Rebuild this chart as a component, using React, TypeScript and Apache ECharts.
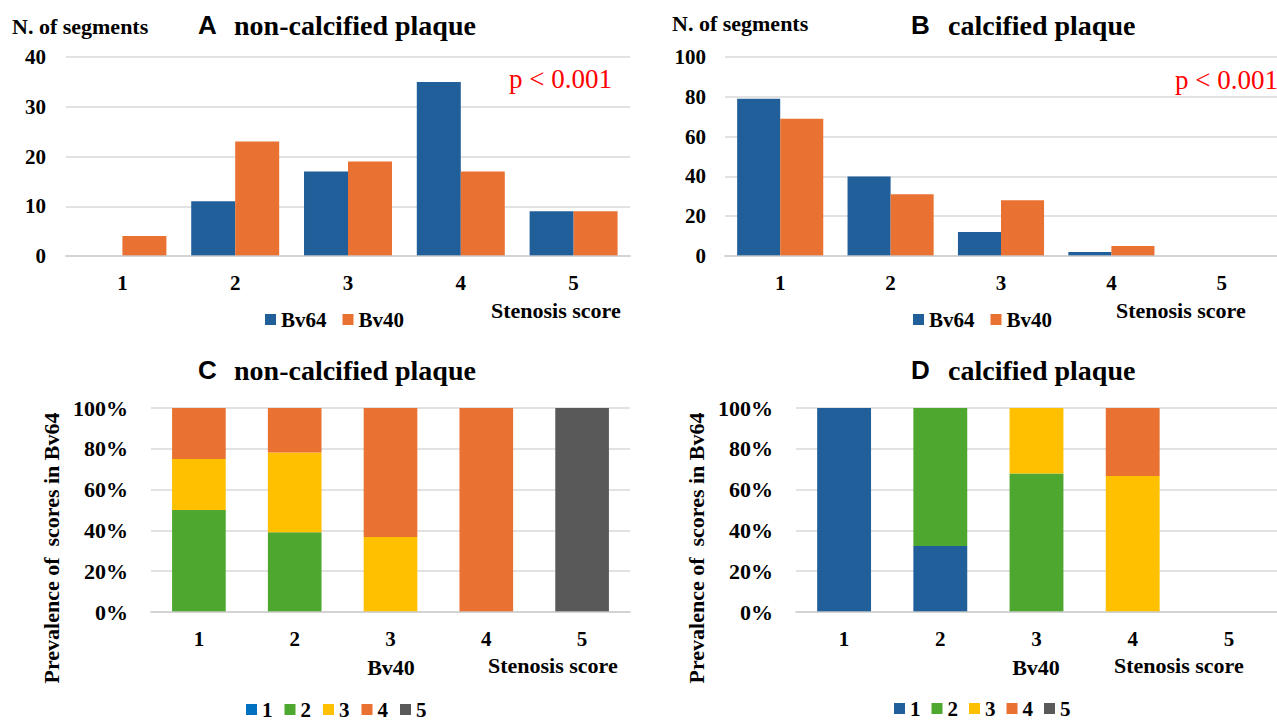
import React, { useEffect, useRef } from "react";
import * as echarts from "echarts";

// ---------- data ----------
const scoreCategories = ["1", "2", "3", "4", "5"];
const groupNames = ["Bv64", "Bv40"];

// Panel A: non-calcified plaque, number of segments
const aBv64 = [0, 11, 17, 35, 9];
const aBv40 = [4, 23, 19, 17, 9];

// Panel B: calcified plaque, number of segments
const bBv64 = [79, 40, 12, 2, 0];
const bBv40 = [69, 31, 28, 5, 0];

// Panel C: non-calcified, % of Bv64 scores for each Bv40 score
const stackNames = ["1", "2", "3", "4", "5"];
const cScore1 = [0, 0, 0, 0, 0];
const cScore2 = [50, 39.1, 0, 0, 0];
const cScore3 = [25, 39.1, 36.8, 0, 0];
const cScore4 = [25, 21.8, 63.2, 100, 0];
const cScore5 = [0, 0, 0, 0, 100];

// Panel D: calcified, % of Bv64 scores for each Bv40 score
const dScore1 = [100, 32.3, 0, 0, 0];
const dScore2 = [0, 67.7, 67.9, 0, 0];
const dScore3 = [0, 0, 32.1, 66.7, 0];
const dScore4 = [0, 0, 0, 33.3, 0];
const dScore5 = [0, 0, 0, 0, 0];

const BLUE = "#215F9A";
const ORANGE = "#E97132";
const GREEN = "#4EA72E";
const YELLOW = "#FFC000";
const GRAY = "#595959";
const LEGEND_BLUE_C = "#0070C0";

const serif = "'Liberation Serif', 'Times New Roman', serif";
const sans = "'Liberation Sans', Arial, sans-serif";

export default function App() {
  const ref = useRef<HTMLDivElement>(null);

  useEffect(() => {
    document.body.style.margin = "0";
    const chart = echarts.init(ref.current!, null, { renderer: "svg" });

    const axisFont = {
      fontFamily: serif,
      fontWeight: "bold" as const,
      fontSize: 21,
      color: "#000",
    };

    const xAxisBase = (gridIndex: number) => ({
      type: "category" as const,
      gridIndex,
      data: scoreCategories,
      z: 5,
      axisTick: { show: false },
      axisLine: { lineStyle: { color: "rgba(205,205,205,0.7)", width: 2 } },
      axisLabel: { ...axisFont, margin: 16 },
    });

    const yAxisBase = (gridIndex: number, max: number, interval: number, pct: boolean, margin: number) => ({
      type: "value" as const,
      gridIndex,
      min: 0,
      max,
      interval,
      axisLine: { show: false },
      axisTick: { show: false },
      splitLine: { lineStyle: { color: "#D9D9D9", width: 1.5 } },
      axisLabel: { ...axisFont, fontSize: pct ? 22 : 21, margin, formatter: pct ? "{value}%" : "{value}" },
    });

    const groupColors = [BLUE, ORANGE];
    const stackColors = [BLUE, GREEN, YELLOW, ORANGE, GRAY];

    const barsAB: any[] = [];
    [aBv64, aBv40].forEach((d, i) =>
      barsAB.push({
        type: "bar",
        name: groupNames[i],
        xAxisIndex: 0,
        yAxisIndex: 0,
        data: d,
        barGap: "0%",
        barCategoryGap: "22%",
        itemStyle: { color: groupColors[i] },
      })
    );
    [bBv64, bBv40].forEach((d, i) =>
      barsAB.push({
        type: "bar",
        name: groupNames[i],
        xAxisIndex: 1,
        yAxisIndex: 1,
        data: d,
        barGap: "0%",
        barCategoryGap: "22%",
        itemStyle: { color: groupColors[i] },
      })
    );

    const stackC = [cScore1, cScore2, cScore3, cScore4, cScore5];
    const stackD = [dScore1, dScore2, dScore3, dScore4, dScore5];
    const stacked: any[] = [];
    stackC.forEach((d, i) =>
      stacked.push({
        type: "bar",
        name: stackNames[i],
        stack: "c",
        xAxisIndex: 2,
        yAxisIndex: 2,
        data: d,
        barCategoryGap: "44%",
        itemStyle: { color: stackColors[i] },
      })
    );
    stackD.forEach((d, i) =>
      stacked.push({
        type: "bar",
        name: stackNames[i],
        stack: "d",
        xAxisIndex: 3,
        yAxisIndex: 3,
        data: d,
        barCategoryGap: "44%",
        itemStyle: { color: stackColors[i] },
      })
    );

    const legendText = { fontFamily: serif, fontWeight: "bold" as const, fontSize: 21, lineHeight: 21, color: "#000" };
    const legendBase = {
      orient: "horizontal" as const,
      itemWidth: 11,
      itemHeight: 11,
      padding: 0,
      icon: "rect",
      selectedMode: false,
      textStyle: legendText,
    };

    const txt = (
      text: string,
      x: number,
      y: number,
      opts: { size?: number; family?: string; weight?: string; color?: string; align?: string; rotation?: number } = {}
    ) => ({
      type: "text",
      x,
      y,
      rotation: opts.rotation || 0,
      style: {
        text,
        fill: opts.color || "#000",
        fontSize: opts.size || 22,
        fontFamily: opts.family || serif,
        fontWeight: opts.weight || "bold",
        align: opts.align || "left",
        textAlign: opts.align || "left",
        verticalAlign: "middle",
        textVerticalAlign: "middle",
      },
    });

    const yName = "Prevalence of  scores in Bv64";

    chart.setOption({
      animation: false,
      backgroundColor: "#fff",
      grid: [
        { left: 66, top: 57, width: 564, height: 199 },
        { left: 725, top: 57, width: 552, height: 199 },
        { left: 151, top: 408, width: 479, height: 204 },
        { left: 796, top: 408, width: 481, height: 204 },
      ],
      xAxis: [xAxisBase(0), xAxisBase(1), xAxisBase(2), xAxisBase(3)],
      yAxis: [
        yAxisBase(0, 40, 10, false, 20),
        yAxisBase(1, 100, 20, false, 19),
        yAxisBase(2, 100, 20, true, 23),
        yAxisBase(3, 100, 20, true, 23),
      ],
      legend: [
        { ...legendBase, data: groupNames, left: 265, top: 309, itemGap: 16 },
        { ...legendBase, data: groupNames, left: 913, top: 309, itemGap: 16 },
        {
          ...legendBase,
          left: 246,
          top: 699,
          itemGap: 12,
          data: stackNames.map((n, i) => ({
            name: n,
            itemStyle: { color: i === 0 ? LEGEND_BLUE_C : stackColors[i] },
          })),
        },
        {
          ...legendBase,
          left: 894,
          top: 698,
          itemGap: 11,
          data: stackNames.map((n, i) => ({ name: n, itemStyle: { color: stackColors[i] } })),
        },
      ],
      series: [...barsAB, ...stacked],
      graphic: [
        // Panel A
        txt("N. of segments", 12, 26),
        txt("A", 198, 25, { family: sans, size: 26 }),
        txt("non-calcified plaque", 234, 25, { size: 28 }),
        txt("p < 0.001", 509, 79, { size: 27, weight: "normal", color: "#FF0000" }),
        txt("Stenosis score", 491, 310),
        // Panel B
        txt("N. of segments", 672, 23),
        txt("B", 911, 25, { family: sans, size: 26 }),
        txt("calcified plaque", 948, 25, { size: 28 }),
        txt("p < 0.001", 1175, 80, { size: 27, weight: "normal", color: "#FF0000" }),
        txt("Stenosis score", 1116, 310),
        // Panel C
        txt("C", 198, 370, { family: sans, size: 26 }),
        txt("non-calcified plaque", 234, 370, { size: 28 }),
        txt(yName, 51, 548, { align: "center", rotation: Math.PI / 2 }),
        txt("Bv40", 391, 667, { align: "center" }),
        txt("Stenosis score", 488, 665),
        // Panel D
        txt("D", 911, 370, { family: sans, size: 26 }),
        txt("calcified plaque", 948, 370, { size: 28 }),
        txt(yName, 696, 548, { align: "center", rotation: Math.PI / 2 }),
        txt("Bv40", 1036, 667, { align: "center" }),
        txt("Stenosis score", 1114, 665),
      ],
    });

    return () => chart.dispose();
  }, []);

  return (
    <div
      ref={ref}
      style={{ position: "absolute", left: 0, top: 0, width: 1277, height: 720, background: "#fff" }}
    />
  );
}
